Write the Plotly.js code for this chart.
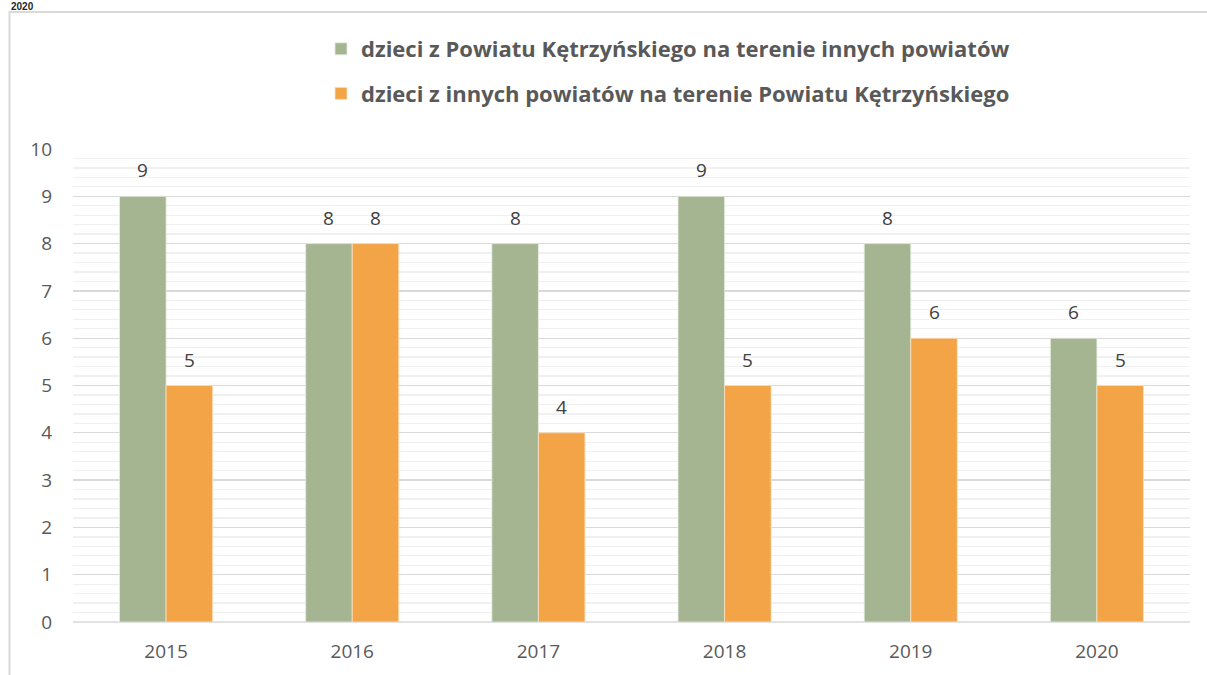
<!DOCTYPE html>
<html>
<head>
<meta charset="utf-8">
<script src="https://cdn.plot.ly/plotly-3.0.1.min.js"></script>
<style>html,body{margin:0;padding:0;background:#fff;}#chart{width:1207px;height:675px;}</style>
</head>
<body>
<div id="chart"></div>
<script>
const years = ['2015', '2016', '2017', '2018', '2019', '2020'];
const seriesA = [9, 8, 8, 9, 8, 6];
const seriesB = [5, 8, 4, 5, 6, 5];
const nameA = 'dzieci z Powiatu Kętrzyńskiego na terenie innych powiatów';
const nameB = 'dzieci z innych powiatów na terenie Powiatu Kętrzyńskiego';
const headingText = '2020';

const W = 1207, H = 675;
const mL = 73, mR = 17, mT = 149, mB = 53;
const pw = W - mL - mR, ph = H - mT - mB;
const px = p => (p - mL) / pw;
const py = p => (H - mB - p) / ph;

const font = '"Open Sans", Lato, sans-serif';

const traces = [
  {type: 'bar', x: years, y: seriesA, name: nameA, legendgroup: 'a',
   marker: {color: '#a5b592', line: {color: '#e6ecdf', width: 0.8}}},
  {type: 'bar', x: years, y: seriesB, name: nameB, legendgroup: 'b',
   marker: {color: '#f3a447', line: {color: '#fbe2c4', width: 0.8}}}
];

const annotations = [];
years.forEach((yr, i) => {
  annotations.push({x: i - 0.125, y: seriesA[i], xref: 'x', yref: 'y', text: String(seriesA[i]),
    showarrow: false, yanchor: 'bottom', yshift: 11, font: {family: font, size: 19, color: '#404040'}});
  annotations.push({x: i + 0.125, y: seriesB[i], xref: 'x', yref: 'y', text: String(seriesB[i]),
    showarrow: false, yanchor: 'bottom', yshift: 11, font: {family: font, size: 19, color: '#404040'}});
});
annotations.push({x: px(9), y: py(-1), xref: 'paper', yref: 'paper', text: '<b>' + headingText + '</b>',
  showarrow: false, xanchor: 'left', yanchor: 'top',
  font: {family: 'Liberation Sans, Arial, sans-serif', size: 10, color: '#262626'}});

const layout = {
  width: W, height: H,
  margin: {l: mL, r: mR, t: mT, b: mB},
  paper_bgcolor: '#ffffff', plot_bgcolor: '#ffffff',
  barmode: 'group', bargap: 0.5, bargroupgap: 0,
  showlegend: true,
  legend: {x: px(321), y: py(28), xanchor: 'left', yanchor: 'top', orientation: 'v',
    traceorder: 'grouped', tracegroupgap: 13,
    font: {family: font, size: 22, color: '#595959', weight: 'bold'},
    bgcolor: 'rgba(0,0,0,0)'},
  xaxis: {type: 'category', showgrid: false, zeroline: false, showline: false, ticks: '',
    tickfont: {family: font, size: 19, color: '#595959'}, ticklabelstandoff: 16},
  yaxis: {range: [0, 10], dtick: 1, tick0: 0, showgrid: true, gridcolor: '#d9d9d9', gridwidth: 1.3,
    minor: {dtick: 0.2, showgrid: true, gridcolor: '#f0f0f0', gridwidth: 1.3},
    zeroline: false, showline: false, ticks: '',
    tickfont: {family: font, size: 19, color: '#595959'}, ticklabelstandoff: 20},
  shapes: [
    {type: 'line', xref: 'paper', yref: 'paper', x0: 0, x1: 1, y0: 0, y1: 0,
     line: {color: '#d9d9d9', width: 1.5}, layer: 'below'},
    {type: 'rect', xref: 'paper', yref: 'paper', x0: px(9.5), x1: px(1215), y0: py(12), y1: py(690),
     line: {color: '#d9d9d9', width: 2}, fillcolor: 'rgba(0,0,0,0)', layer: 'below'}
  ],
  annotations: annotations
};

Plotly.newPlot('chart', traces, layout, {displayModeBar: false, staticPlot: true});
</script>
</body>
</html>
